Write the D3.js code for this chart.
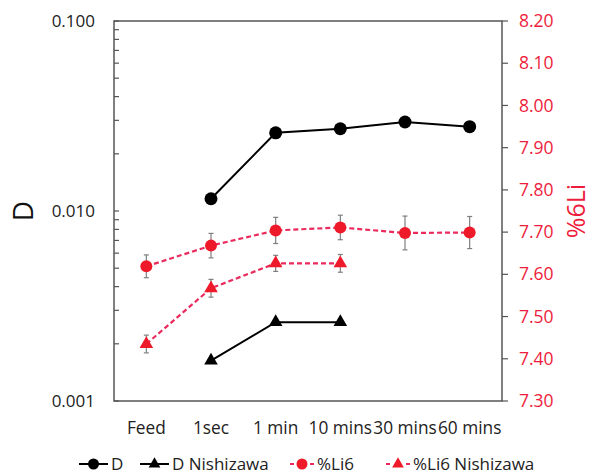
<!DOCTYPE html>
<html>
<head>
<meta charset="utf-8">
<script src="https://cdn.jsdelivr.net/npm/d3@7"></script>
<style>
  body { margin: 0; background: #fff; }
  svg text { font-family: "Open Sans", "Noto Sans", sans-serif; }
</style>
</head>
<body>
<svg id="chart"></svg>
<script>
// categories and series
const categories = ["Feed", "1sec", "1 min", "10 mins", "30 mins", "60 mins"];
const dValues = [null, 0.0116, 0.0258, 0.0271, 0.0294, 0.0278];
const dNishizawa = [null, 0.00163, 0.0026, 0.0026, null, null];
const li6Values = [7.619, 7.668, 7.704, 7.711, 7.698, 7.699];
const li6Errors = [0.027, 0.029, 0.031, 0.029, 0.040, 0.038];
const li6Nishizawa = [7.435, 7.567, 7.626, 7.626, null, null];
const li6NishizawaErrors = [0.021, 0.021, 0.019, 0.021, null, null];
const leftTicks = [0.001, 0.01, 0.1];
const rightTicks = [7.3, 7.4, 7.5, 7.6, 7.7, 7.8, 7.9, 8.0, 8.1, 8.2];
const legendItems = [
    { label: "D", key: "d" },
    { label: "D Nishizawa", key: "dn" },
    { label: "%Li6", key: "li" },
    { label: "%Li6 Nishizawa", key: "lin" }
];

const width = 597, height = 474;
const margin = { top: 21, right: 95, bottom: 73, left: 114 };
const innerW = width - margin.left - margin.right;
const innerH = height - margin.top - margin.bottom;

const red = "#ee1a2a";
const redLine = "#ea2a5c";
const redText = "#ee1d3c";
const axisColor = "#555";

const svg = d3.select("#chart").attr("width", width).attr("height", height);
const g = svg.append("g").attr("transform", `translate(${margin.left},${margin.top})`);

const x = d3.scaleBand().domain(categories).range([0, innerW]);
const cx = d => x(d) + x.bandwidth() / 2;
const yL = d3.scaleLog().domain([0.001, 0.1]).range([innerH, 0]);
const yR = d3.scaleLinear().domain([7.3, 8.2]).range([innerH, 0]);

// frame
g.append("rect")
    .attr("width", innerW).attr("height", innerH)
    .attr("fill", "none").attr("stroke", axisColor).attr("stroke-width", 1.5);

// left axis: major + minor ticks inside
const minor = [];
[0.001, 0.01].forEach(b => { for (let i = 2; i <= 9; i++) minor.push(b * i); });
g.selectAll(".minor").data(minor).join("line")
    .attr("x1", 0).attr("x2", 5)
    .attr("y1", d => yL(d)).attr("y2", d => yL(d))
    .attr("stroke", axisColor).attr("stroke-width", 1.2);
g.selectAll(".major").data(leftTicks).join("line")
    .attr("x1", 0).attr("x2", 5)
    .attr("y1", d => yL(d)).attr("y2", d => yL(d))
    .attr("stroke", axisColor).attr("stroke-width", 1.2);
g.selectAll(".ltl").data(leftTicks).join("text")
    .attr("x", -19).attr("y", d => yL(d)).attr("dy", "0.35em")
    .attr("text-anchor", "end").attr("font-size", 17).attr("fill", "#222")
    .text(d3.format(".3f"));

// right axis
g.selectAll(".rt").data(rightTicks).join("line")
    .attr("x1", innerW).attr("x2", innerW + 6)
    .attr("y1", d => yR(d)).attr("y2", d => yR(d))
    .attr("stroke", axisColor).attr("stroke-width", 1.2);
g.selectAll(".rtl").data(rightTicks).join("text")
    .attr("x", innerW + 17).attr("y", d => yR(d)).attr("dy", "0.35em")
    .attr("font-size", 17.5).attr("fill", redText)
    .text(d3.format(".2f"));

// x labels
g.selectAll(".xl").data(categories).join("text")
    .attr("x", d => cx(d)).attr("y", innerH + 33)
    .attr("text-anchor", "middle").attr("font-size", 17.3).attr("fill", "#222")
    .text(d => d);

// axis titles
svg.append("text")
    .attr("transform", `translate(33,${margin.top + yL(0.01)}) rotate(-90)`)
    .attr("text-anchor", "middle").attr("font-size", 28).attr("fill", "#111")
    .text("D");
svg.append("text")
    .attr("transform", `translate(585,211) rotate(-90)`)
    .attr("text-anchor", "middle").attr("font-size", 25).attr("fill", redText)
    .text("%6Li");

// helper to build point lists
const pts = (vals, y) => categories.map((c, i) => ({ c, v: vals[i] }))
    .filter(d => d.v != null).map(d => ({ ...d, x: cx(d.c), y: y(d.v) }));

const line = d3.line().x(d => d.x).y(d => d.y);
const tri = d3.symbol().type(d3.symbolTriangle).size(80);

// error bars
function errorBars(vals, errs) {
    const data = categories.map((c, i) => ({ c, v: vals[i], e: errs[i] })).filter(d => d.v != null);
    const eg = g.append("g").attr("stroke", "#7f7f7f").attr("stroke-width", 1.2);
    eg.selectAll(".eb").data(data).join("line")
        .attr("x1", d => cx(d.c)).attr("x2", d => cx(d.c))
        .attr("y1", d => yR(d.v - d.e)).attr("y2", d => yR(d.v + d.e));
    eg.selectAll(".ct").data(data).join("line")
        .attr("x1", d => cx(d.c) - 2.5).attr("x2", d => cx(d.c) + 2.5)
        .attr("y1", d => yR(d.v + d.e)).attr("y2", d => yR(d.v + d.e));
    eg.selectAll(".cb").data(data).join("line")
        .attr("x1", d => cx(d.c) - 2.5).attr("x2", d => cx(d.c) + 2.5)
        .attr("y1", d => yR(d.v - d.e)).attr("y2", d => yR(d.v - d.e));
}
errorBars(li6Values, li6Errors);
errorBars(li6Nishizawa, li6NishizawaErrors);

// %Li6 series
const liPts = pts(li6Values, yR);
g.append("path").attr("d", line(liPts)).attr("fill", "none")
    .attr("stroke", redLine).attr("stroke-width", 2.2).attr("stroke-dasharray", "5,3");
g.selectAll(".lip").data(liPts).join("circle")
    .attr("cx", d => d.x).attr("cy", d => d.y).attr("r", 6).attr("fill", red);

const linPts = pts(li6Nishizawa, yR);
g.append("path").attr("d", line(linPts)).attr("fill", "none")
    .attr("stroke", redLine).attr("stroke-width", 2.2).attr("stroke-dasharray", "5,3");
g.selectAll(".linp").data(linPts).join("path")
    .attr("d", tri).attr("transform", d => `translate(${d.x},${d.y})`).attr("fill", red);

// D series
const dPts = pts(dValues, yL);
g.append("path").attr("d", line(dPts)).attr("fill", "none")
    .attr("stroke", "#000").attr("stroke-width", 2);
g.selectAll(".dp").data(dPts).join("circle")
    .attr("cx", d => d.x).attr("cy", d => d.y).attr("r", 6.5).attr("fill", "#000");

const dnPts = pts(dNishizawa, yL);
g.append("path").attr("d", line(dnPts)).attr("fill", "none")
    .attr("stroke", "#000").attr("stroke-width", 2);
g.selectAll(".dnp").data(dnPts).join("path")
    .attr("d", tri).attr("transform", d => `translate(${d.x},${d.y})`).attr("fill", "#000");

// legend
const legendX = [79, 140, 290, 386];
const lg = svg.append("g").attr("transform", "translate(0,464)");
legendItems.forEach((it, i) => {
    const x0 = legendX[i];
    const isRed = it.key === "li" || it.key === "lin";
    const lw = isRed ? 24 : 29;
    lg.append("line").attr("x1", x0).attr("x2", x0 + lw).attr("y1", 0).attr("y2", 0)
        .attr("stroke", isRed ? redLine : "#000").attr("stroke-width", 2)
        .attr("stroke-dasharray", isRed ? "4,6" : null);
    if (it.key === "d" || it.key === "li") {
        lg.append("circle").attr("cx", x0 + lw / 2).attr("cy", 0).attr("r", 5.5)
            .attr("fill", isRed ? red : "#000");
    } else {
        lg.append("path").attr("d", d3.symbol().type(d3.symbolTriangle).size(60))
            .attr("transform", `translate(${x0 + lw / 2},0)`).attr("fill", isRed ? red : "#000");
    }
    lg.append("text").attr("x", x0 + lw + 3).attr("y", 0).attr("dy", "0.33em")
        .attr("font-size", 17).attr("fill", "#222").text(it.label);
});
</script>
</body>
</html>
